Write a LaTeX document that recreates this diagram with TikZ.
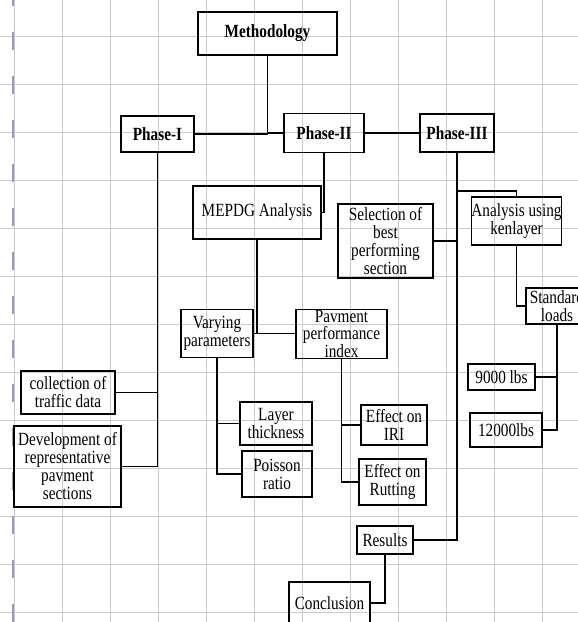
\documentclass[tikz,border=0pt]{standalone}
\usepackage{fontspec}
\setmainfont{Liberation Serif}[FakeStretch=0.82]
\definecolor{gridgray}{RGB}{202,202,206}
\definecolor{dashcol}{RGB}{154,154,190}
\begin{document}
\begin{tikzpicture}[x=1pt,y=-1pt,
  box/.style={draw=black, line width=1.6pt, inner sep=0pt, align=center,
              font=\fontsize{18.6}{18}\selectfont},
  tightbox/.style={box, font=\fontsize{18.6}{16.2}\selectfont},
  conn/.style={line width=1.6pt, draw=black},
  gridline/.style={line width=0.9pt, draw=gridgray},
  dashline/.style={line width=1.8pt, draw=dashcol, dash pattern=on 18pt off 26pt}]
\useasboundingbox (0,0) rectangle (578,622);
\clip (0,0) rectangle (578,622);
\fill[white] (0,0) rectangle (578,622);
% grid
\foreach \k in {0,...,11} \draw[gridline] ({14.3+48*\k},0) -- ({14.3+48*\k},622);
\foreach \k in {0,...,12} \draw[gridline] (0,{36+48*\k}) -- (578,{36+48*\k});
\draw[dashline] (13,622) -- (13,0);
% nodes
\node[box, minimum width=139pt, minimum height=43pt] (meth) at (267.5,33.5) {\bfseries Methodology};
\node[box, minimum width=73pt, minimum height=36pt] (p1) at (157.5,134) {\bfseries Phase-I};
\node[box, minimum width=80pt, minimum height=39pt] (p2) at (324,133) {\bfseries Phase-II};
\node[box, minimum width=74pt, minimum height=38pt] (p3) at (457,133) {\bfseries Phase-III};
\node[box, minimum width=128pt, minimum height=53pt] (mepdg) at (257,212.5) {MEPDG Analysis};
\node[box, minimum width=95pt, minimum height=74pt] (sel) at (385.5,241) {Selection of\\best\\performing\\section};
\node[box, minimum width=89pt, minimum height=48pt] (ken) at (516.5,221) {Analysis using\\kenlayer};
\node[box, minimum width=62pt, minimum height=36pt] (std) at (557,306) {Standard\\loads};
\node[box, minimum width=72pt, minimum height=48pt] (vary) at (217,333.5) {Varying\\parameters};
\node[tightbox, minimum width=91pt, minimum height=49pt] (pav) at (341.5,334) {Pavment\\performance\\index};
\node[box, minimum width=94pt, minimum height=43pt] (coll) at (68,392.5) {collection of\\traffic data};
\node[box, minimum width=107pt, minimum height=81pt] (dev) at (67.5,466.5) {Development of\\representative\\pavment\\sections};
\node[box, minimum width=72pt, minimum height=43pt] (layer) at (276,423.5) {Layer\\thickness};
\node[box, minimum width=70pt, minimum height=46pt] (pois) at (277,474) {Poisson\\ratio};
\node[box, minimum width=66pt, minimum height=40pt] (iri) at (394,425) {Effect on\\IRI};
\node[box, minimum width=67pt, minimum height=46pt] (rut) at (392.5,482) {Effect on\\Rutting};
\node[box, minimum width=67pt, minimum height=26pt] (l9) at (501.5,377) {9000 lbs};
\node[box, minimum width=72pt, minimum height=34pt] (l12) at (506,430) {12000lbs};
\node[box, minimum width=56pt, minimum height=28pt] (res) at (385,540) {Results};
\node[box, minimum width=81pt, minimum height=42pt] (concl) at (329.5,603) {Conclusion};
\coordinate (kbr) at (457,191);
% connectors
\draw[conn] (meth.south) |- (p1.east);
\draw[conn] (meth.south |- p2.west) -- (p2.west);
\draw[conn] (p2.east) -- (p3.west);
\draw[conn] (p1.south) |- (dev.east);
\draw[conn] (p1.south |- coll.east) -- (coll.east);
\draw[conn] (p2.south) |- (mepdg.east);
\draw[conn] (mepdg.south) |- (vary.east -| pav.west);
\draw[conn] (vary.east) -- (mepdg.south |- vary.east);
\draw[conn] (vary.south) |- (pois.west);
\draw[conn] (vary.south |- layer.west) -- (layer.west);
\draw[conn] (pav.south) |- (rut.west);
\draw[conn] (pav.south |- iri.west) -- (iri.west);
\draw[conn] (p3.south) |- (res.east);
\draw[conn] (p3.south |- sel.east) -- (sel.east);
\draw[conn] (kbr) -| (ken.north);
\draw[conn] (ken.south) |- (std.west);
\draw[conn] (std.south) |- (l12.east);
\draw[conn] (std.south |- l9.east) -- (l9.east);
\draw[conn] (res.south) |- (concl.east);
\end{tikzpicture}
\end{document}
